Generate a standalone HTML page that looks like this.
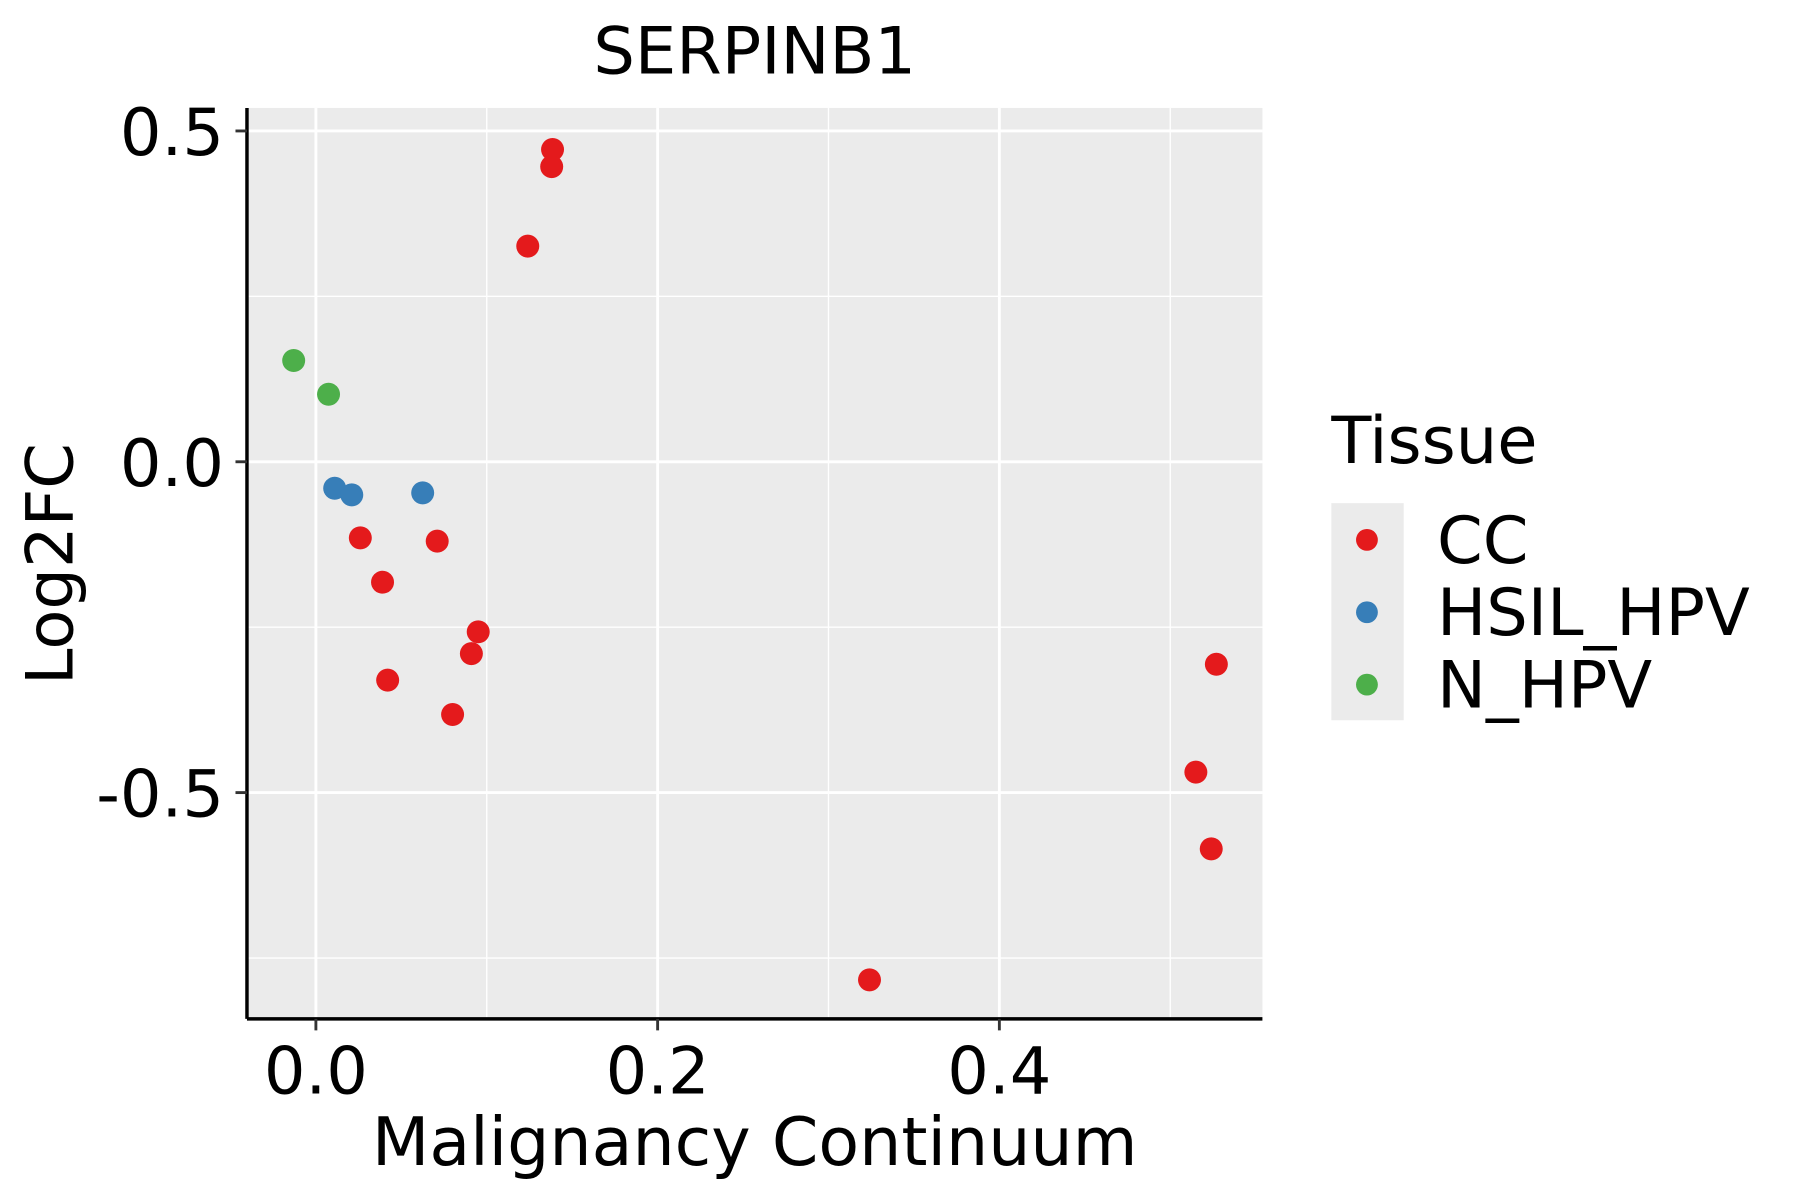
<!DOCTYPE html>
<html><head><meta charset="utf-8"><style>
html,body{margin:0;padding:0;background:#fff}
svg{display:block;font-family:"DejaVu Sans","Liberation Sans",sans-serif}
</style></head><body>
<svg id="chart" width="1800" height="1200" viewBox="0 0 1567 1044" preserveAspectRatio="xMinYMin meet" xmlns="http://www.w3.org/2000/svg">
<rect width="1567" height="1044" fill="#fff"/>
<text x="657" y="64" font-size="57" text-anchor="middle">SERPINB1</text>
<rect x="215" y="94" width="884" height="793" fill="#ebebeb"/>
<g id="grid"></g>
<g id="points"></g>
<line x1="215" y1="94" x2="215" y2="887" stroke="#000" stroke-width="3"/>
<line x1="215" y1="887" x2="1099" y2="887" stroke="#000" stroke-width="3"/>
<g id="ticks"></g>
<text x="657" y="1014" font-size="58" text-anchor="middle">Malignancy Continuum</text>
<text transform="translate(63,491) rotate(-90)" font-size="57" text-anchor="middle">Log2FC</text>
<g>
<text x="1159" y="403" font-size="57">Tissue</text>
<rect x="1159" y="438" width="63" height="189" fill="#ebebeb"/>
<circle cx="1190" cy="470" r="9.5" fill="#e41a1c"/>
<circle cx="1190" cy="533" r="9.5" fill="#377eb8"/>
<circle cx="1190" cy="596" r="9.5" fill="#4daf4a"/>
<text x="1251" y="490" font-size="57">CC</text>
<text x="1251" y="553" font-size="57">HSIL_HPV</text>
<text x="1251" y="616" font-size="57">N_HPV</text>
</g>
</svg>
<script>
const ccX=[0.1385,0.138,0.124,0.026,0.071,0.039,0.095,0.091,0.042,0.080,0.527,0.515,0.524,0.324];
const ccY=[0.472,0.446,0.326,-0.115,-0.120,-0.182,-0.257,-0.290,-0.330,-0.382,-0.306,-0.469,-0.585,-0.783];
const hsilX=[0.011,0.021,0.0625];
const hsilY=[-0.040,-0.050,-0.047];
const nX=[-0.013,0.0074];
const nY=[0.153,0.102];
const xTicks=[0.0,0.2,0.4];
const xTickLabels=["0.0","0.2","0.4"];
const xMinor=[0.1,0.3,0.5];
const yTicks=[0.5,0.0,-0.5];
const yTickLabels=["0.5","0.0","-0.5"];
const yMinor=[0.25,-0.25,-0.75];
const NS="http://www.w3.org/2000/svg";
function sx(v){return 275+v*1487.5;}
function sy(v){return 402-v*576;}
function mk(tag,attrs,parent){const e=document.createElementNS(NS,tag);for(const k in attrs)e.setAttribute(k,attrs[k]);parent.appendChild(e);return e;}
const grid=document.getElementById('grid'),ticks=document.getElementById('ticks'),pts=document.getElementById('points');
xMinor.forEach(v=>{const l=mk('line',{x1:sx(v),x2:sx(v),y1:94,y2:887,stroke:'#fff','stroke-width':1.2},grid);

});
yMinor.forEach(v=>{const l=mk('line',{x1:215,x2:1099,y1:sy(v),y2:sy(v),stroke:'#fff','stroke-width':1.2},grid);

});
xTicks.forEach((v,i)=>{const l=mk('line',{x1:sx(v),x2:sx(v),y1:94,y2:887,stroke:'#fff','stroke-width':2.5},grid);


const t=mk('line',{x1:sx(v),x2:sx(v),y1:887,y2:897,stroke:'#333','stroke-width':2.5},ticks);


const tx=mk('text',{x:sx(v),y:952,'font-size':57,'text-anchor':'middle'},ticks);tx.textContent=xTickLabels[i];

});
yTicks.forEach((v,i)=>{const l=mk('line',{x1:215,x2:1099,y1:sy(v),y2:sy(v),stroke:'#fff','stroke-width':2.5},grid);


const t=mk('line',{x1:205,x2:215,y1:sy(v),y2:sy(v),stroke:'#333','stroke-width':2.5},ticks);


const tx=mk('text',{x:195,y:sy(v)+21,'font-size':57,'text-anchor':'end'},ticks);tx.textContent=yTickLabels[i];

});
function series(xs,ys,color,name){xs.forEach((x,i)=>{const c=mk('circle',{cx:sx(x),cy:sy(ys[i]),r:10,fill:color},pts);

});}
series(ccX,ccY,'#e41a1c','point-cc');
series(hsilX,hsilY,'#377eb8','point-hsil-hpv');
series(nX,nY,'#4daf4a','point-n-hpv');
</script>
</body></html>
